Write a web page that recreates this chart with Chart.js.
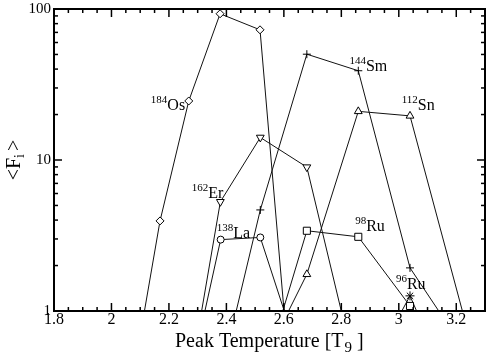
<!DOCTYPE html>
<html><head><meta charset="utf-8">
<script src="https://cdn.jsdelivr.net/npm/chart.js@4.4.0/dist/chart.umd.min.js"></script>
<style>html,body{margin:0;padding:0;background:#fff}#wrap{width:491px;height:354px}</style>
</head><body><div id="wrap"><canvas id="c" width="491" height="354"></canvas></div>
<script>
// ---- tick labels ----
const xTickValues = [1.8, 2.0, 2.2, 2.4, 2.6, 2.8, 3.0, 3.2];
const xTickLabels = ['1.8', '2', '2.2', '2.4', '2.6', '2.8', '3', '3.2'];
const xMinorValues = [1.85,1.9,1.95,2.05,2.1,2.15,2.25,2.3,2.35,2.45,2.5,2.55,2.65,2.7,2.75,2.85,2.9,2.95,3.05,3.1,3.15,3.25];
const yTickValues = [1, 10, 100];
const yTickLabels = ['1', '10', '100'];
const yMinorValues = [2,3,4,5,6,7,8,9,20,30,40,50,60,70,80,90];

// ---- series: peak temperature (T9) and <F_i> ----
const osT = [2.106, 2.169, 2.269, 2.378, 2.517, 2.605];
const osF = [0.8, 3.95, 24.6, 93, 72.8, 0.8];
const erT = [2.305, 2.379, 2.518, 2.680, 2.812];
const erF = [0.8, 5.29, 14.1, 8.97, 0.8];
const laT = [2.314, 2.380, 2.518, 2.618];
const laF = [0.8, 2.97, 3.07, 0.8];
const smT = [2.422, 2.518, 2.680, 2.859, 3.039, 3.173];
const smF = [0.8, 4.67, 50.2, 39.0, 1.93, 0.8];
const snT = [2.591, 2.680, 2.859, 3.039, 3.235];
const snF = [0.8, 1.75, 21.0, 19.6, 0.8];
const ru98T = [2.581, 2.680, 2.859, 3.039, 3.088];
const ru98F = [0.8, 3.40, 3.10, 1.08, 0.8];
const ru96T = [2.983, 3.039, 3.084];
const ru96F = [0.8, 1.26, 0.8];

// ---- isotope labels (anchored in data units) ----
const labelMass = ['184', '162', '138', '144', '112', '98', '96'];
const labelElem = ['Os', 'Er', 'La', 'Sm', 'Sn', 'Ru', 'Ru'];
const labelT = [2.137, 2.279, 2.366, 2.828, 3.010, 2.848, 2.990];
const labelF = [21.4, 5.59, 3.06, 38.6, 21.4, 3.40, 1.39];

const SER = "'Liberation Serif', 'Times New Roman', 'DejaVu Serif', serif";

function mk(label, T, F, style, r, rot) {
  return {
    label: label,
    data: T.map((t, i) => ({ x: t, y: F[i] })),
    showLine: true,
    borderColor: '#111',
    borderWidth: 1,
    pointStyle: style,
    pointRadius: r,
    pointHoverRadius: r,
    pointRotation: rot || 0,
    pointBorderColor: '#000',
    pointBackgroundColor: '#fff',
    pointBorderWidth: 1,
    tension: 0
  };
}

const frameTicks = {
  id: 'frameTicks',
  afterDraw(chart) {
    const ctx = chart.ctx, a = chart.chartArea;
    const xs = chart.scales.x, ys = chart.scales.y;
    ctx.save();
    ctx.strokeStyle = '#000';
    ctx.lineWidth = 1.5;
    const tick = (x1, y1, x2, y2) => { ctx.beginPath(); ctx.moveTo(x1, y1); ctx.lineTo(x2, y2); ctx.stroke(); };
    xTickValues.forEach(v => { const p = xs.getPixelForValue(v); tick(p, a.bottom, p, a.bottom - 8); tick(p, a.top, p, a.top + 8); });
    xMinorValues.forEach(v => { const p = xs.getPixelForValue(v); tick(p, a.bottom, p, a.bottom - 4); tick(p, a.top, p, a.top + 4); });
    yTickValues.forEach(v => { const p = ys.getPixelForValue(v); tick(a.left, p, a.left + 8, p); tick(a.right, p, a.right - 8, p); });
    yMinorValues.forEach(v => { const p = ys.getPixelForValue(v); tick(a.left, p, a.left + 4, p); tick(a.right, p, a.right - 4, p); });
    ctx.lineWidth = 2;
    ctx.strokeRect(a.left, a.top, a.right - a.left, a.bottom - a.top);

    // isotope labels
    ctx.fillStyle = '#000';
    ctx.textBaseline = 'alphabetic';
    ctx.textAlign = 'left';
    labelElem.forEach((el, i) => {
      const px = xs.getPixelForValue(labelT[i]);
      const py = ys.getPixelForValue(labelF[i]);
      ctx.font = '11px ' + SER;
      ctx.fillText(labelMass[i], px, py - 7);
      const w = ctx.measureText(labelMass[i]).width;
      ctx.font = '16px ' + SER;
      ctx.fillText(el, px + w, py);
    });

    // x axis title
    const main = 'Peak Temperature [T';
    ctx.font = '20px ' + SER;
    const wMain = ctx.measureText(main).width;
    const wEnd = ctx.measureText(' ]').width;
    ctx.font = '15px ' + SER;
    const wSub = ctx.measureText('9').width;
    const x0 = 175;
    const by = 347;
    ctx.font = '20px ' + SER;
    ctx.fillText(main, x0, by);
    ctx.font = '15px ' + SER;
    ctx.fillText('9', x0 + wMain + 1, by + 5);
    ctx.font = '20px ' + SER;
    ctx.fillText(' ]', x0 + wMain + wSub + 1, by);

    // y axis title (rotated)
    ctx.save();
    ctx.translate(20, (a.top + a.bottom) / 2);
    ctx.rotate(-Math.PI / 2);
    ctx.font = '20px ' + SER;
    const w1 = ctx.measureText('<F').width;
    const w3 = ctx.measureText('>').width;
    ctx.font = '14px ' + SER;
    const w2 = ctx.measureText('i').width + 3;
    const yx = -(w1 + w2 + w3) / 2;
    ctx.font = '20px ' + SER;
    ctx.fillText('<F', yx, 0);
    ctx.font = '14px ' + SER;
    ctx.fillText('i', yx + w1, 4);
    ctx.font = '20px ' + SER;
    ctx.fillText('>', yx + w1 + w2, 0);
    ctx.restore();
    ctx.restore();
  }
};

new Chart(document.getElementById('c'), {
  type: 'scatter',
  data: {
    datasets: [
      mk('184Os', osT, osF, 'rectRot', 4),
      mk('162Er', erT, erF, 'triangle', 4.5, 180),
      mk('138La', laT, laF, 'circle', 3.5),
      mk('144Sm', smT, smF, 'cross', 4),
      mk('112Sn', snT, snF, 'triangle', 4.5),
      mk('98Ru', ru98T, ru98F, 'rect', 5),
      mk('96Ru', ru96T, ru96F, 'star', 4.5)
    ]
  },
  options: {
    responsive: false,
    animation: false,
    layout: { padding: { top: 6, right: 3, left: 0, bottom: 0 } },
    plugins: { legend: { display: false }, tooltip: { enabled: false } },
    scales: {
      x: {
        type: 'linear', min: 1.8, max: 3.3,
        grid: { display: false, drawTicks: false, tickLength: 0 }, border: { display: false },
        afterBuildTicks: s => { s.ticks = xTickValues.map(v => ({ value: v })); },
        afterFit: s => { s.height = 43; },
        ticks: {
          callback: (v, i) => xTickLabels[i],
          font: { family: SER, size: 16 }, color: '#000', padding: -1,
          maxRotation: 0, autoSkip: false
        }
      },
      y: {
        type: 'logarithmic', min: 1, max: 100,
        grid: { display: false, drawTicks: false, tickLength: 0 }, border: { display: false },
        afterBuildTicks: s => { s.ticks = yTickValues.map(v => ({ value: v })); },
        afterFit: s => { s.width = 54; },
        ticks: {
          callback: (v, i) => yTickLabels[i],
          font: { family: SER, size: 15, lineHeight: 0.8 }, color: '#000', padding: 3,
          autoSkip: false
        }
      }
    }
  },
  plugins: [frameTicks]
});
</script>
</body></html>
